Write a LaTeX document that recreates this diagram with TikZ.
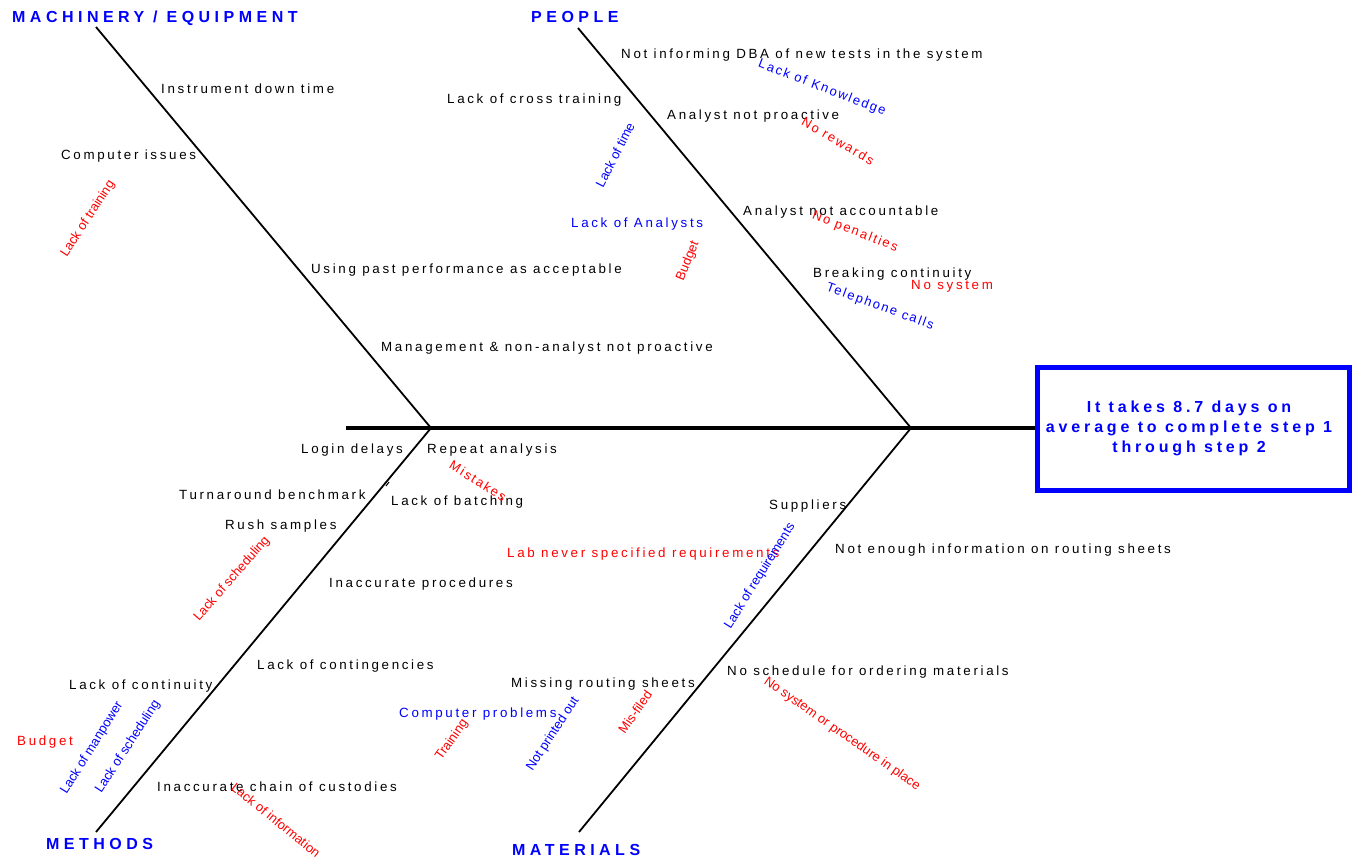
\documentclass[tikz,border=0pt]{standalone}
\usepackage{fontspec}
\setmainfont{Liberation Sans}
\newfontfamily\spacedfont[LetterSpace=20]{Liberation Sans}
\newfontfamily\rotspfont[LetterSpace=14]{Liberation Sans}
\newfontfamily\catfontfam[LetterSpace=28]{Liberation Sans}
\newfontfamily\boxfontfam[LetterSpace=24]{Liberation Sans}
\definecolor{fbblue}{RGB}{0,0,255}
\definecolor{fbred}{RGB}{255,0,0}
\begin{document}
\begin{tikzpicture}[x=1pt,y=-1pt,
  txt/.style={anchor=base west, inner sep=0pt, text=black, font=\spacedfont\fontsize{13.35}{15}\selectfont},
  sptxt/.style={anchor=center, inner sep=0pt, font=\rotspfont\fontsize{13}{15}\selectfont},
  sub/.style={anchor=center, inner sep=0pt, font=\fontsize{13}{15}\selectfont},
  cat/.style={anchor=base west, inner sep=0pt, text=fbblue, font=\catfontfam\bfseries\fontsize{16}{18}\selectfont},
  bone/.style={draw=black, line width=1.8pt},
  spine/.style={draw=black, line width=3.5pt},
  effectbox/.style={draw=fbblue, line width=5pt, minimum width=312pt, minimum height=123pt, inner sep=0pt, align=center, text=fbblue, font=\boxfontfam\bfseries\fontsize{16}{20}\selectfont}
]
\useasboundingbox (0,0) rectangle (1354,859);

% effect box
\node[effectbox] (effect) at (1193,428.5) {It takes 8.7 days on\kern8pt\\average to complete step 1\kern8pt\\through step 2\kern8pt};

% skeleton coordinates
\coordinate (tail) at (346,428);
\coordinate (mj) at (431,428);
\coordinate (pj) at (911,428);
\coordinate (mtop) at (96,27);
\coordinate (ptop) at (578,28);
\coordinate (mebot) at (96,832);
\coordinate (mabot) at (579,832);
\coordinate (tickA) at (386,486);
\coordinate (tickB) at (389,482);

\draw[spine] (tail) -- (tail -| effect.west);
\draw[bone] (mtop) -- (mj);
\draw[bone] (ptop) -- (pj);
\draw[bone] (mj) -- (mebot);
\draw[bone] (pj) -- (mabot);
\draw[line width=1pt] (tickA) -- (tickB);

% category labels
\node[cat] (cmach) at (12,23) {MACHINERY / EQUIPMENT};
\node[cat] (cpeop) at (531,23) {PEOPLE};
\node[cat] (cmeth) at (46,849) {METHODS};
\node[cat] (cmat) at (512,855) {MATERIALS};

% black causes
\node[txt] (t1) at (161,93) {Instrument down time};
\node[txt] (t2) at (61,159) {Computer issues};
\node[txt] (t3) at (311,273) {Using past performance as acceptable};
\node[txt] (t4) at (381,351) {Management \& non-analyst not proactive};
\node[txt] (t5) at (621,59) {Not informing DBA of new tests in the system};
\node[txt] (t6) at (447,103) {Lack of cross training};
\node[txt] (t7) at (667,119) {Analyst not proactive};
\node[txt] (t8) at (743,215) {Analyst not accountable};
\node[txt] (t9) at (813,277) {Breaking continuity};
\node[txt] (t10) at (301,453) {Login delays};
\node[txt] (t11) at (427,453) {Repeat analysis};
\node[txt] (t12) at (179,499) {Turnaround benchmark};
\node[txt] (t13) at (391,505) {Lack of batching};
\node[txt] (t14) at (225,529) {Rush samples};
\node[txt] (t15) at (329,587) {Inaccurate procedures};
\node[txt] (t16) at (257,669) {Lack of contingencies};
\node[txt] (t17) at (69,689) {Lack of continuity};
\node[txt] (t18) at (157,791) {Inaccurate chain of custodies};
\node[txt] (t19) at (769,509) {Suppliers};
\node[txt] (t20) at (835,553) {Not enough information on routing sheets};
\node[txt] (t21) at (727,675) {No schedule for ordering materials};
\node[txt] (t22) at (511,687) {Missing routing sheets};

% coloured horizontal spaced
\node[txt, text=fbblue] (h1) at (571,227) {Lack of Analysts};
\node[txt, text=fbblue] (h2) at (399,717) {Computer problems};
\node[txt, text=fbred] (h3) at (911,289) {No system};
\node[txt, text=fbred] (h4) at (507,557) {Lab never specified requirements};
\node[txt, text=fbred] (h5) at (17,745) {Budget};

% rotated spaced
\node[sptxt, text=fbblue, rotate=-21] (r1) at (822,88) {Lack of Knowledge};
\node[sptxt, text=fbred, rotate=-30] (r2) at (838,141) {No rewards};
\node[sptxt, text=fbred, rotate=-21] (r3) at (855,232) {No penalties};
\node[sptxt, text=fbblue, rotate=-20] (r4) at (880,307) {Telephone calls};
\node[sptxt, text=fbred, rotate=-32] (r5) at (478,481) {Mistakes};

% rotated narrow
\node[sub, text=fbred, rotate=57] (n1) at (88,219) {Lack of training};
\node[sub, text=fbblue, rotate=63] (n2) at (615,155) {Lack of time};
\node[sub, text=fbred, rotate=68] (n3) at (688,261) {Budget};
\node[sub, text=fbred, rotate=49] (n4) at (232,579) {Lack of scheduling};
\node[sub, text=fbblue, rotate=58] (n5) at (92,748) {Lack of manpower};
\node[sub, text=fbblue, rotate=57] (n6) at (128,747) {Lack of scheduling};
\node[sub, text=fbred, rotate=55] (n7) at (452,740) {Training};
\node[sub, text=fbblue, rotate=57] (n8) at (553,734) {Not printed out};
\node[sub, text=fbred, rotate=55] (n9) at (635,712) {Mis-filed};
\node[sub, text=fbblue, rotate=58] (n10) at (760,576) {Lack of requirements};
\node[sub, text=fbred, rotate=-35] (n11) at (842,734) {No system or procedure in place};
\node[sub, text=fbred, rotate=-39] (n12) at (276,820) {Lack of information};
\end{tikzpicture}
\end{document}
